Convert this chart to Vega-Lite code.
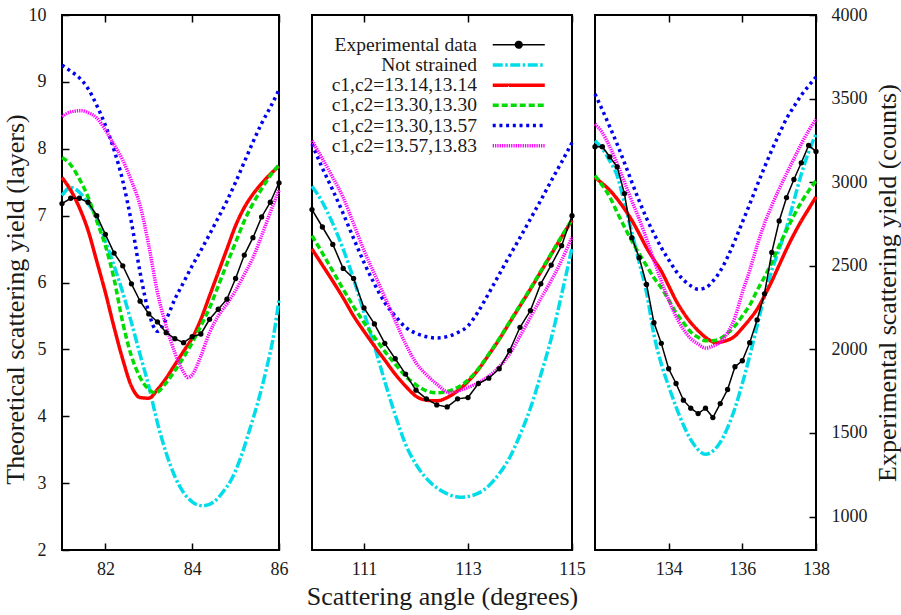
{
"$schema":"https://vega.github.io/schema/vega-lite/v6.json",
"background":"white",
"padding":{"left":1,"top":5,"right":0,"bottom":0},
"bounds":"flush",
"spacing":33,
"config":{
 "font":"Liberation Serif",
 "view":{"stroke":"#000","strokeWidth":2},
 "axis":{"grid":false,"domain":false,"tickColor":"#000","tickWidth":1.5,"tickSize":-7,"labelColor":"#1a1a1a","labelFont":"Liberation Serif","labelFontSize":18,"labelFlush":false,"labelOverlap":false,"labelBound":false,"titleFont":"Liberation Serif","titleFontSize":26,"titleFontWeight":"normal","titleColor":"#1a1a1a"},
 "axisX":{"labelPadding":17.4,"titlePadding":5},
 "axisY":{"labelPadding":23,"titlePadding":0}
},
"datasets":{
"theory":[
{"s":"Not strained","x":81,"y":7.30},{"s":"Not strained","x":81.2,"y":7.42},{"s":"Not strained","x":81.4,"y":7.35},{"s":"Not strained","x":81.6,"y":7.18},{"s":"Not strained","x":81.8,"y":6.97},{"s":"Not strained","x":82,"y":6.62},{"s":"Not strained","x":82.2,"y":6.25},{"s":"Not strained","x":82.4,"y":5.85},{"s":"Not strained","x":82.6,"y":5.40},{"s":"Not strained","x":82.8,"y":4.92},{"s":"Not strained","x":83,"y":4.45},{"s":"Not strained","x":83.2,"y":3.90},{"s":"Not strained","x":83.4,"y":3.45},{"s":"Not strained","x":83.6,"y":3.10},{"s":"Not strained","x":83.8,"y":2.86},{"s":"Not strained","x":84,"y":2.72},{"s":"Not strained","x":84.25,"y":2.66},{"s":"Not strained","x":84.5,"y":2.72},{"s":"Not strained","x":84.7,"y":2.86},{"s":"Not strained","x":84.9,"y":3.05},{"s":"Not strained","x":85.1,"y":3.35},{"s":"Not strained","x":85.3,"y":3.75},{"s":"Not strained","x":85.5,"y":4.18},{"s":"Not strained","x":85.7,"y":4.68},{"s":"Not strained","x":85.9,"y":5.30},{"s":"Not strained","x":86,"y":5.75},
{"s":"c1,c2=13.14,13.14","x":81,"y":7.57},{"s":"c1,c2=13.14,13.14","x":81.2,"y":7.38},{"s":"c1,c2=13.14,13.14","x":81.4,"y":7.12},{"s":"c1,c2=13.14,13.14","x":81.6,"y":6.78},{"s":"c1,c2=13.14,13.14","x":81.8,"y":6.32},{"s":"c1,c2=13.14,13.14","x":82,"y":5.85},{"s":"c1,c2=13.14,13.14","x":82.2,"y":5.33},{"s":"c1,c2=13.14,13.14","x":82.4,"y":4.85},{"s":"c1,c2=13.14,13.14","x":82.6,"y":4.45},{"s":"c1,c2=13.14,13.14","x":82.8,"y":4.28},{"s":"c1,c2=13.14,13.14","x":83,"y":4.27},{"s":"c1,c2=13.14,13.14","x":83.2,"y":4.40},{"s":"c1,c2=13.14,13.14","x":83.4,"y":4.57},{"s":"c1,c2=13.14,13.14","x":83.6,"y":4.77},{"s":"c1,c2=13.14,13.14","x":83.8,"y":4.97},{"s":"c1,c2=13.14,13.14","x":84,"y":5.17},{"s":"c1,c2=13.14,13.14","x":84.2,"y":5.45},{"s":"c1,c2=13.14,13.14","x":84.4,"y":5.80},{"s":"c1,c2=13.14,13.14","x":84.6,"y":6.15},{"s":"c1,c2=13.14,13.14","x":84.8,"y":6.50},{"s":"c1,c2=13.14,13.14","x":85,"y":6.85},{"s":"c1,c2=13.14,13.14","x":85.2,"y":7.12},{"s":"c1,c2=13.14,13.14","x":85.4,"y":7.32},{"s":"c1,c2=13.14,13.14","x":85.6,"y":7.48},{"s":"c1,c2=13.14,13.14","x":85.8,"y":7.62},{"s":"c1,c2=13.14,13.14","x":86,"y":7.74},
{"s":"c1,c2=13.30,13.30","x":81,"y":7.87},{"s":"c1,c2=13.30,13.30","x":81.2,"y":7.76},{"s":"c1,c2=13.30,13.30","x":81.4,"y":7.55},{"s":"c1,c2=13.30,13.30","x":81.6,"y":7.28},{"s":"c1,c2=13.30,13.30","x":81.8,"y":6.92},{"s":"c1,c2=13.30,13.30","x":82,"y":6.55},{"s":"c1,c2=13.30,13.30","x":82.2,"y":6.05},{"s":"c1,c2=13.30,13.30","x":82.4,"y":5.40},{"s":"c1,c2=13.30,13.30","x":82.6,"y":4.90},{"s":"c1,c2=13.30,13.30","x":82.8,"y":4.58},{"s":"c1,c2=13.30,13.30","x":83,"y":4.40},{"s":"c1,c2=13.30,13.30","x":83.15,"y":4.35},{"s":"c1,c2=13.30,13.30","x":83.4,"y":4.50},{"s":"c1,c2=13.30,13.30","x":83.6,"y":4.68},{"s":"c1,c2=13.30,13.30","x":83.8,"y":4.88},{"s":"c1,c2=13.30,13.30","x":84,"y":5.10},{"s":"c1,c2=13.30,13.30","x":84.2,"y":5.35},{"s":"c1,c2=13.30,13.30","x":84.4,"y":5.62},{"s":"c1,c2=13.30,13.30","x":84.6,"y":5.95},{"s":"c1,c2=13.30,13.30","x":84.8,"y":6.28},{"s":"c1,c2=13.30,13.30","x":85,"y":6.60},{"s":"c1,c2=13.30,13.30","x":85.2,"y":6.92},{"s":"c1,c2=13.30,13.30","x":85.4,"y":7.18},{"s":"c1,c2=13.30,13.30","x":85.6,"y":7.40},{"s":"c1,c2=13.30,13.30","x":85.8,"y":7.60},{"s":"c1,c2=13.30,13.30","x":86,"y":7.76},
{"s":"c1,c2=13.30,13.57","x":81,"y":9.25},{"s":"c1,c2=13.30,13.57","x":81.2,"y":9.16},{"s":"c1,c2=13.30,13.57","x":81.4,"y":9.06},{"s":"c1,c2=13.30,13.57","x":81.6,"y":8.90},{"s":"c1,c2=13.30,13.57","x":81.8,"y":8.65},{"s":"c1,c2=13.30,13.57","x":82,"y":8.35},{"s":"c1,c2=13.30,13.57","x":82.2,"y":7.98},{"s":"c1,c2=13.30,13.57","x":82.4,"y":7.52},{"s":"c1,c2=13.30,13.57","x":82.6,"y":6.90},{"s":"c1,c2=13.30,13.57","x":82.8,"y":6.15},{"s":"c1,c2=13.30,13.57","x":83,"y":5.55},{"s":"c1,c2=13.30,13.57","x":83.2,"y":5.27},{"s":"c1,c2=13.30,13.57","x":83.4,"y":5.45},{"s":"c1,c2=13.30,13.57","x":83.6,"y":5.75},{"s":"c1,c2=13.30,13.57","x":83.8,"y":6.00},{"s":"c1,c2=13.30,13.57","x":84,"y":6.25},{"s":"c1,c2=13.30,13.57","x":84.2,"y":6.48},{"s":"c1,c2=13.30,13.57","x":84.4,"y":6.72},{"s":"c1,c2=13.30,13.57","x":84.6,"y":6.97},{"s":"c1,c2=13.30,13.57","x":84.8,"y":7.22},{"s":"c1,c2=13.30,13.57","x":85,"y":7.50},{"s":"c1,c2=13.30,13.57","x":85.2,"y":7.80},{"s":"c1,c2=13.30,13.57","x":85.4,"y":8.10},{"s":"c1,c2=13.30,13.57","x":85.6,"y":8.38},{"s":"c1,c2=13.30,13.57","x":85.8,"y":8.62},{"s":"c1,c2=13.30,13.57","x":86,"y":8.88},
{"s":"c1,c2=13.57,13.83","x":81,"y":8.48},{"s":"c1,c2=13.57,13.83","x":81.2,"y":8.55},{"s":"c1,c2=13.57,13.83","x":81.45,"y":8.57},{"s":"c1,c2=13.57,13.83","x":81.6,"y":8.54},{"s":"c1,c2=13.57,13.83","x":81.8,"y":8.46},{"s":"c1,c2=13.57,13.83","x":82,"y":8.28},{"s":"c1,c2=13.57,13.83","x":82.2,"y":8.06},{"s":"c1,c2=13.57,13.83","x":82.4,"y":7.83},{"s":"c1,c2=13.57,13.83","x":82.6,"y":7.52},{"s":"c1,c2=13.57,13.83","x":82.8,"y":7.15},{"s":"c1,c2=13.57,13.83","x":83,"y":6.55},{"s":"c1,c2=13.57,13.83","x":83.2,"y":5.85},{"s":"c1,c2=13.57,13.83","x":83.4,"y":5.35},{"s":"c1,c2=13.57,13.83","x":83.6,"y":4.95},{"s":"c1,c2=13.57,13.83","x":83.8,"y":4.66},{"s":"c1,c2=13.57,13.83","x":83.9,"y":4.58},{"s":"c1,c2=13.57,13.83","x":84,"y":4.62},{"s":"c1,c2=13.57,13.83","x":84.2,"y":4.90},{"s":"c1,c2=13.57,13.83","x":84.4,"y":5.25},{"s":"c1,c2=13.57,13.83","x":84.6,"y":5.50},{"s":"c1,c2=13.57,13.83","x":84.8,"y":5.68},{"s":"c1,c2=13.57,13.83","x":85,"y":5.88},{"s":"c1,c2=13.57,13.83","x":85.2,"y":6.12},{"s":"c1,c2=13.57,13.83","x":85.4,"y":6.37},{"s":"c1,c2=13.57,13.83","x":85.6,"y":6.70},{"s":"c1,c2=13.57,13.83","x":85.8,"y":7.05},{"s":"c1,c2=13.57,13.83","x":86,"y":7.38},
{"s":"Not strained","x":110,"y":7.44},{"s":"Not strained","x":110.2,"y":7.20},{"s":"Not strained","x":110.4,"y":6.88},{"s":"Not strained","x":110.6,"y":6.50},{"s":"Not strained","x":110.8,"y":6.05},{"s":"Not strained","x":111,"y":5.55},{"s":"Not strained","x":111.2,"y":5.05},{"s":"Not strained","x":111.4,"y":4.52},{"s":"Not strained","x":111.6,"y":4.02},{"s":"Not strained","x":111.8,"y":3.58},{"s":"Not strained","x":112,"y":3.28},{"s":"Not strained","x":112.2,"y":3.07},{"s":"Not strained","x":112.4,"y":2.93},{"s":"Not strained","x":112.6,"y":2.84},{"s":"Not strained","x":112.85,"y":2.79},{"s":"Not strained","x":113,"y":2.80},{"s":"Not strained","x":113.2,"y":2.85},{"s":"Not strained","x":113.4,"y":2.96},{"s":"Not strained","x":113.6,"y":3.14},{"s":"Not strained","x":113.8,"y":3.38},{"s":"Not strained","x":114,"y":3.72},{"s":"Not strained","x":114.2,"y":4.12},{"s":"Not strained","x":114.4,"y":4.62},{"s":"Not strained","x":114.6,"y":5.16},{"s":"Not strained","x":114.8,"y":5.82},{"s":"Not strained","x":115,"y":6.52},
{"s":"c1,c2=13.14,13.14","x":110,"y":6.50},{"s":"c1,c2=13.14,13.14","x":110.2,"y":6.26},{"s":"c1,c2=13.14,13.14","x":110.4,"y":6.02},{"s":"c1,c2=13.14,13.14","x":110.6,"y":5.77},{"s":"c1,c2=13.14,13.14","x":110.8,"y":5.50},{"s":"c1,c2=13.14,13.14","x":111,"y":5.27},{"s":"c1,c2=13.14,13.14","x":111.2,"y":5.05},{"s":"c1,c2=13.14,13.14","x":111.4,"y":4.84},{"s":"c1,c2=13.14,13.14","x":111.6,"y":4.63},{"s":"c1,c2=13.14,13.14","x":111.8,"y":4.45},{"s":"c1,c2=13.14,13.14","x":112,"y":4.30},{"s":"c1,c2=13.14,13.14","x":112.2,"y":4.24},{"s":"c1,c2=13.14,13.14","x":112.4,"y":4.23},{"s":"c1,c2=13.14,13.14","x":112.6,"y":4.28},{"s":"c1,c2=13.14,13.14","x":112.8,"y":4.38},{"s":"c1,c2=13.14,13.14","x":113,"y":4.52},{"s":"c1,c2=13.14,13.14","x":113.2,"y":4.70},{"s":"c1,c2=13.14,13.14","x":113.4,"y":4.92},{"s":"c1,c2=13.14,13.14","x":113.6,"y":5.15},{"s":"c1,c2=13.14,13.14","x":113.8,"y":5.40},{"s":"c1,c2=13.14,13.14","x":114,"y":5.65},{"s":"c1,c2=13.14,13.14","x":114.2,"y":5.90},{"s":"c1,c2=13.14,13.14","x":114.4,"y":6.16},{"s":"c1,c2=13.14,13.14","x":114.6,"y":6.42},{"s":"c1,c2=13.14,13.14","x":114.8,"y":6.68},{"s":"c1,c2=13.14,13.14","x":115,"y":6.93},
{"s":"c1,c2=13.30,13.30","x":110,"y":6.70},{"s":"c1,c2=13.30,13.30","x":110.2,"y":6.44},{"s":"c1,c2=13.30,13.30","x":110.4,"y":6.17},{"s":"c1,c2=13.30,13.30","x":110.6,"y":5.90},{"s":"c1,c2=13.30,13.30","x":110.8,"y":5.64},{"s":"c1,c2=13.30,13.30","x":111,"y":5.40},{"s":"c1,c2=13.30,13.30","x":111.2,"y":5.18},{"s":"c1,c2=13.30,13.30","x":111.4,"y":4.97},{"s":"c1,c2=13.30,13.30","x":111.6,"y":4.78},{"s":"c1,c2=13.30,13.30","x":111.8,"y":4.60},{"s":"c1,c2=13.30,13.30","x":112,"y":4.47},{"s":"c1,c2=13.30,13.30","x":112.2,"y":4.38},{"s":"c1,c2=13.30,13.30","x":112.4,"y":4.35},{"s":"c1,c2=13.30,13.30","x":112.6,"y":4.37},{"s":"c1,c2=13.30,13.30","x":112.8,"y":4.43},{"s":"c1,c2=13.30,13.30","x":113,"y":4.54},{"s":"c1,c2=13.30,13.30","x":113.2,"y":4.71},{"s":"c1,c2=13.30,13.30","x":113.4,"y":4.93},{"s":"c1,c2=13.30,13.30","x":113.6,"y":5.16},{"s":"c1,c2=13.30,13.30","x":113.8,"y":5.41},{"s":"c1,c2=13.30,13.30","x":114,"y":5.66},{"s":"c1,c2=13.30,13.30","x":114.2,"y":5.91},{"s":"c1,c2=13.30,13.30","x":114.4,"y":6.17},{"s":"c1,c2=13.30,13.30","x":114.6,"y":6.43},{"s":"c1,c2=13.30,13.30","x":114.8,"y":6.69},{"s":"c1,c2=13.30,13.30","x":115,"y":6.94},
{"s":"c1,c2=13.30,13.57","x":110,"y":8.07},{"s":"c1,c2=13.30,13.57","x":110.2,"y":7.71},{"s":"c1,c2=13.30,13.57","x":110.4,"y":7.38},{"s":"c1,c2=13.30,13.57","x":110.6,"y":7.03},{"s":"c1,c2=13.30,13.57","x":110.8,"y":6.66},{"s":"c1,c2=13.30,13.57","x":111,"y":6.30},{"s":"c1,c2=13.30,13.57","x":111.2,"y":5.98},{"s":"c1,c2=13.30,13.57","x":111.4,"y":5.70},{"s":"c1,c2=13.30,13.57","x":111.6,"y":5.50},{"s":"c1,c2=13.30,13.57","x":111.8,"y":5.33},{"s":"c1,c2=13.30,13.57","x":112,"y":5.24},{"s":"c1,c2=13.30,13.57","x":112.2,"y":5.19},{"s":"c1,c2=13.30,13.57","x":112.4,"y":5.17},{"s":"c1,c2=13.30,13.57","x":112.6,"y":5.19},{"s":"c1,c2=13.30,13.57","x":112.8,"y":5.25},{"s":"c1,c2=13.30,13.57","x":113,"y":5.35},{"s":"c1,c2=13.30,13.57","x":113.2,"y":5.57},{"s":"c1,c2=13.30,13.57","x":113.4,"y":5.84},{"s":"c1,c2=13.30,13.57","x":113.6,"y":6.12},{"s":"c1,c2=13.30,13.57","x":113.8,"y":6.40},{"s":"c1,c2=13.30,13.57","x":114,"y":6.67},{"s":"c1,c2=13.30,13.57","x":114.2,"y":6.95},{"s":"c1,c2=13.30,13.57","x":114.4,"y":7.23},{"s":"c1,c2=13.30,13.57","x":114.6,"y":7.52},{"s":"c1,c2=13.30,13.57","x":114.8,"y":7.80},{"s":"c1,c2=13.30,13.57","x":115,"y":8.09},
{"s":"c1,c2=13.57,13.83","x":110,"y":8.12},{"s":"c1,c2=13.57,13.83","x":110.2,"y":7.85},{"s":"c1,c2=13.57,13.83","x":110.4,"y":7.57},{"s":"c1,c2=13.57,13.83","x":110.6,"y":7.27},{"s":"c1,c2=13.57,13.83","x":110.8,"y":6.88},{"s":"c1,c2=13.57,13.83","x":111,"y":6.48},{"s":"c1,c2=13.57,13.83","x":111.2,"y":6.13},{"s":"c1,c2=13.57,13.83","x":111.4,"y":5.78},{"s":"c1,c2=13.57,13.83","x":111.6,"y":5.43},{"s":"c1,c2=13.57,13.83","x":111.8,"y":5.08},{"s":"c1,c2=13.57,13.83","x":112,"y":4.80},{"s":"c1,c2=13.57,13.83","x":112.2,"y":4.62},{"s":"c1,c2=13.57,13.83","x":112.4,"y":4.48},{"s":"c1,c2=13.57,13.83","x":112.65,"y":4.35},{"s":"c1,c2=13.57,13.83","x":112.8,"y":4.38},{"s":"c1,c2=13.57,13.83","x":113,"y":4.43},{"s":"c1,c2=13.57,13.83","x":113.2,"y":4.50},{"s":"c1,c2=13.57,13.83","x":113.4,"y":4.60},{"s":"c1,c2=13.57,13.83","x":113.6,"y":4.74},{"s":"c1,c2=13.57,13.83","x":113.8,"y":4.93},{"s":"c1,c2=13.57,13.83","x":114,"y":5.20},{"s":"c1,c2=13.57,13.83","x":114.2,"y":5.48},{"s":"c1,c2=13.57,13.83","x":114.4,"y":5.76},{"s":"c1,c2=13.57,13.83","x":114.6,"y":6.03},{"s":"c1,c2=13.57,13.83","x":114.8,"y":6.33},{"s":"c1,c2=13.57,13.83","x":115,"y":6.68},
{"s":"Not strained","x":132,"y":8.12},{"s":"Not strained","x":132.2,"y":8.00},{"s":"Not strained","x":132.4,"y":7.82},{"s":"Not strained","x":132.6,"y":7.60},{"s":"Not strained","x":132.8,"y":7.19},{"s":"Not strained","x":133,"y":6.75},{"s":"Not strained","x":133.2,"y":6.30},{"s":"Not strained","x":133.4,"y":5.85},{"s":"Not strained","x":133.6,"y":5.22},{"s":"Not strained","x":133.8,"y":4.78},{"s":"Not strained","x":134,"y":4.45},{"s":"Not strained","x":134.2,"y":4.14},{"s":"Not strained","x":134.4,"y":3.87},{"s":"Not strained","x":134.6,"y":3.65},{"s":"Not strained","x":134.8,"y":3.50},{"s":"Not strained","x":135,"y":3.43},{"s":"Not strained","x":135.2,"y":3.48},{"s":"Not strained","x":135.4,"y":3.61},{"s":"Not strained","x":135.6,"y":3.83},{"s":"Not strained","x":135.8,"y":4.12},{"s":"Not strained","x":136,"y":4.49},{"s":"Not strained","x":136.2,"y":4.90},{"s":"Not strained","x":136.4,"y":5.35},{"s":"Not strained","x":136.6,"y":5.80},{"s":"Not strained","x":136.8,"y":6.18},{"s":"Not strained","x":137,"y":6.50},{"s":"Not strained","x":137.2,"y":6.82},{"s":"Not strained","x":137.4,"y":7.22},{"s":"Not strained","x":137.6,"y":7.62},{"s":"Not strained","x":137.8,"y":7.95},{"s":"Not strained","x":138,"y":8.22},
{"s":"c1,c2=13.14,13.14","x":132,"y":7.57},{"s":"c1,c2=13.14,13.14","x":132.2,"y":7.48},{"s":"c1,c2=13.14,13.14","x":132.4,"y":7.38},{"s":"c1,c2=13.14,13.14","x":132.6,"y":7.25},{"s":"c1,c2=13.14,13.14","x":132.8,"y":7.10},{"s":"c1,c2=13.14,13.14","x":133,"y":6.93},{"s":"c1,c2=13.14,13.14","x":133.2,"y":6.73},{"s":"c1,c2=13.14,13.14","x":133.4,"y":6.52},{"s":"c1,c2=13.14,13.14","x":133.6,"y":6.34},{"s":"c1,c2=13.14,13.14","x":133.8,"y":6.17},{"s":"c1,c2=13.14,13.14","x":134,"y":5.95},{"s":"c1,c2=13.14,13.14","x":134.2,"y":5.73},{"s":"c1,c2=13.14,13.14","x":134.4,"y":5.55},{"s":"c1,c2=13.14,13.14","x":134.6,"y":5.40},{"s":"c1,c2=13.14,13.14","x":134.8,"y":5.28},{"s":"c1,c2=13.14,13.14","x":135,"y":5.18},{"s":"c1,c2=13.14,13.14","x":135.3,"y":5.10},{"s":"c1,c2=13.14,13.14","x":135.5,"y":5.12},{"s":"c1,c2=13.14,13.14","x":135.8,"y":5.20},{"s":"c1,c2=13.14,13.14","x":136,"y":5.32},{"s":"c1,c2=13.14,13.14","x":136.2,"y":5.45},{"s":"c1,c2=13.14,13.14","x":136.4,"y":5.60},{"s":"c1,c2=13.14,13.14","x":136.6,"y":5.80},{"s":"c1,c2=13.14,13.14","x":136.8,"y":6.02},{"s":"c1,c2=13.14,13.14","x":137,"y":6.26},{"s":"c1,c2=13.14,13.14","x":137.2,"y":6.50},{"s":"c1,c2=13.14,13.14","x":137.4,"y":6.72},{"s":"c1,c2=13.14,13.14","x":137.6,"y":6.92},{"s":"c1,c2=13.14,13.14","x":137.8,"y":7.10},{"s":"c1,c2=13.14,13.14","x":138,"y":7.28},
{"s":"c1,c2=13.30,13.30","x":132,"y":7.60},{"s":"c1,c2=13.30,13.30","x":132.2,"y":7.45},{"s":"c1,c2=13.30,13.30","x":132.4,"y":7.28},{"s":"c1,c2=13.30,13.30","x":132.6,"y":7.05},{"s":"c1,c2=13.30,13.30","x":132.8,"y":6.83},{"s":"c1,c2=13.30,13.30","x":133,"y":6.62},{"s":"c1,c2=13.30,13.30","x":133.2,"y":6.43},{"s":"c1,c2=13.30,13.30","x":133.4,"y":6.25},{"s":"c1,c2=13.30,13.30","x":133.6,"y":6.07},{"s":"c1,c2=13.30,13.30","x":133.8,"y":5.92},{"s":"c1,c2=13.30,13.30","x":134,"y":5.74},{"s":"c1,c2=13.30,13.30","x":134.2,"y":5.55},{"s":"c1,c2=13.30,13.30","x":134.4,"y":5.40},{"s":"c1,c2=13.30,13.30","x":134.6,"y":5.26},{"s":"c1,c2=13.30,13.30","x":134.8,"y":5.18},{"s":"c1,c2=13.30,13.30","x":135,"y":5.13},{"s":"c1,c2=13.30,13.30","x":135.2,"y":5.13},{"s":"c1,c2=13.30,13.30","x":135.4,"y":5.16},{"s":"c1,c2=13.30,13.30","x":135.6,"y":5.24},{"s":"c1,c2=13.30,13.30","x":135.8,"y":5.35},{"s":"c1,c2=13.30,13.30","x":136,"y":5.50},{"s":"c1,c2=13.30,13.30","x":136.2,"y":5.66},{"s":"c1,c2=13.30,13.30","x":136.4,"y":5.88},{"s":"c1,c2=13.30,13.30","x":136.6,"y":6.08},{"s":"c1,c2=13.30,13.30","x":136.8,"y":6.30},{"s":"c1,c2=13.30,13.30","x":137,"y":6.55},{"s":"c1,c2=13.30,13.30","x":137.2,"y":6.78},{"s":"c1,c2=13.30,13.30","x":137.4,"y":7.00},{"s":"c1,c2=13.30,13.30","x":137.6,"y":7.20},{"s":"c1,c2=13.30,13.30","x":137.8,"y":7.37},{"s":"c1,c2=13.30,13.30","x":138,"y":7.52},
{"s":"c1,c2=13.30,13.57","x":132,"y":8.82},{"s":"c1,c2=13.30,13.57","x":132.2,"y":8.58},{"s":"c1,c2=13.30,13.57","x":132.4,"y":8.33},{"s":"c1,c2=13.30,13.57","x":132.6,"y":8.07},{"s":"c1,c2=13.30,13.57","x":132.8,"y":7.79},{"s":"c1,c2=13.30,13.57","x":133,"y":7.50},{"s":"c1,c2=13.30,13.57","x":133.2,"y":7.22},{"s":"c1,c2=13.30,13.57","x":133.4,"y":6.96},{"s":"c1,c2=13.30,13.57","x":133.6,"y":6.73},{"s":"c1,c2=13.30,13.57","x":133.8,"y":6.52},{"s":"c1,c2=13.30,13.57","x":134,"y":6.34},{"s":"c1,c2=13.30,13.57","x":134.2,"y":6.17},{"s":"c1,c2=13.30,13.57","x":134.4,"y":6.04},{"s":"c1,c2=13.30,13.57","x":134.6,"y":5.95},{"s":"c1,c2=13.30,13.57","x":134.8,"y":5.90},{"s":"c1,c2=13.30,13.57","x":135,"y":5.92},{"s":"c1,c2=13.30,13.57","x":135.2,"y":6.02},{"s":"c1,c2=13.30,13.57","x":135.4,"y":6.17},{"s":"c1,c2=13.30,13.57","x":135.6,"y":6.38},{"s":"c1,c2=13.30,13.57","x":135.8,"y":6.63},{"s":"c1,c2=13.30,13.57","x":136,"y":6.90},{"s":"c1,c2=13.30,13.57","x":136.2,"y":7.17},{"s":"c1,c2=13.30,13.57","x":136.4,"y":7.45},{"s":"c1,c2=13.30,13.57","x":136.6,"y":7.72},{"s":"c1,c2=13.30,13.57","x":136.8,"y":7.98},{"s":"c1,c2=13.30,13.57","x":137,"y":8.22},{"s":"c1,c2=13.30,13.57","x":137.2,"y":8.45},{"s":"c1,c2=13.30,13.57","x":137.4,"y":8.63},{"s":"c1,c2=13.30,13.57","x":137.6,"y":8.80},{"s":"c1,c2=13.30,13.57","x":137.8,"y":8.94},{"s":"c1,c2=13.30,13.57","x":138,"y":9.07},
{"s":"c1,c2=13.57,13.83","x":132,"y":8.37},{"s":"c1,c2=13.57,13.83","x":132.2,"y":8.24},{"s":"c1,c2=13.57,13.83","x":132.4,"y":8.03},{"s":"c1,c2=13.57,13.83","x":132.6,"y":7.78},{"s":"c1,c2=13.57,13.83","x":132.8,"y":7.50},{"s":"c1,c2=13.57,13.83","x":133,"y":7.22},{"s":"c1,c2=13.57,13.83","x":133.2,"y":6.95},{"s":"c1,c2=13.57,13.83","x":133.4,"y":6.65},{"s":"c1,c2=13.57,13.83","x":133.6,"y":6.33},{"s":"c1,c2=13.57,13.83","x":133.8,"y":6.02},{"s":"c1,c2=13.57,13.83","x":134,"y":5.74},{"s":"c1,c2=13.57,13.83","x":134.2,"y":5.49},{"s":"c1,c2=13.57,13.83","x":134.4,"y":5.30},{"s":"c1,c2=13.57,13.83","x":134.6,"y":5.16},{"s":"c1,c2=13.57,13.83","x":134.8,"y":5.08},{"s":"c1,c2=13.57,13.83","x":135,"y":5.02},{"s":"c1,c2=13.57,13.83","x":135.2,"y":5.05},{"s":"c1,c2=13.57,13.83","x":135.4,"y":5.11},{"s":"c1,c2=13.57,13.83","x":135.6,"y":5.25},{"s":"c1,c2=13.57,13.83","x":135.8,"y":5.48},{"s":"c1,c2=13.57,13.83","x":136,"y":5.85},{"s":"c1,c2=13.57,13.83","x":136.2,"y":6.18},{"s":"c1,c2=13.57,13.83","x":136.4,"y":6.55},{"s":"c1,c2=13.57,13.83","x":136.6,"y":6.88},{"s":"c1,c2=13.57,13.83","x":136.8,"y":7.15},{"s":"c1,c2=13.57,13.83","x":137,"y":7.40},{"s":"c1,c2=13.57,13.83","x":137.2,"y":7.63},{"s":"c1,c2=13.57,13.83","x":137.4,"y":7.85},{"s":"c1,c2=13.57,13.83","x":137.6,"y":8.07},{"s":"c1,c2=13.57,13.83","x":137.8,"y":8.27},{"s":"c1,c2=13.57,13.83","x":138,"y":8.44}
],
"exp":[
{"x":81,"c":2872},{"x":81.2,"c":2904},{"x":81.4,"c":2904},{"x":81.6,"c":2880},{"x":81.8,"c":2800},{"x":82,"c":2688},{"x":82.2,"c":2576},{"x":82.4,"c":2500},{"x":82.6,"c":2392},{"x":82.8,"c":2288},{"x":83,"c":2212},{"x":83.2,"c":2164},{"x":83.4,"c":2100},{"x":83.6,"c":2064},{"x":83.8,"c":2040},{"x":84,"c":2076},{"x":84.2,"c":2092},{"x":84.4,"c":2180},{"x":84.6,"c":2240},{"x":84.8,"c":2300},{"x":85,"c":2424},{"x":85.2,"c":2564},{"x":85.4,"c":2668},{"x":85.6,"c":2792},{"x":85.8,"c":2880},{"x":86,"c":2996},
{"x":110,"c":2836},{"x":110.2,"c":2732},{"x":110.4,"c":2628},{"x":110.6,"c":2484},{"x":110.8,"c":2424},{"x":111,"c":2248},{"x":111.2,"c":2152},{"x":111.4,"c":2036},{"x":111.6,"c":1944},{"x":111.8,"c":1852},{"x":112,"c":1756},{"x":112.2,"c":1704},{"x":112.4,"c":1668},{"x":112.6,"c":1656},{"x":112.8,"c":1704},{"x":113,"c":1712},{"x":113.2,"c":1796},{"x":113.4,"c":1828},{"x":113.6,"c":1884},{"x":113.8,"c":1992},{"x":114,"c":2132},{"x":114.2,"c":2232},{"x":114.4,"c":2392},{"x":114.6,"c":2504},{"x":114.8,"c":2620},{"x":115,"c":2800},
{"x":132,"c":3212},{"x":132.2,"c":3212},{"x":132.4,"c":3152},{"x":132.6,"c":3092},{"x":132.8,"c":2932},{"x":133,"c":2668},{"x":133.2,"c":2548},{"x":133.4,"c":2388},{"x":133.6,"c":2160},{"x":133.8,"c":2036},{"x":134,"c":1884},{"x":134.2,"c":1796},{"x":134.4,"c":1696},{"x":134.6,"c":1648},{"x":134.8,"c":1616},{"x":135,"c":1648},{"x":135.2,"c":1592},{"x":135.4,"c":1676},{"x":135.6,"c":1760},{"x":135.8,"c":1896},{"x":136,"c":1932},{"x":136.2,"c":2040},{"x":136.4,"c":2176},{"x":136.6,"c":2332},{"x":136.8,"c":2580},{"x":137,"c":2768},{"x":137.2,"c":2908},{"x":137.4,"c":3016},{"x":137.6,"c":3116},{"x":137.8,"c":3220},{"x":138,"c":3184}
]
},
"resolve":{"scale":{"x":"independent","y":"independent"}},
"hconcat":[
{
 "width":217,"height":535,
 "resolve":{"scale":{"y":"independent"},"axis":{"x":"independent","y":"independent"}},
 "layer":[
  {"data":{"name":"theory"},"transform":[{"filter":"datum.x < 100"}],
   "mark":{"type":"line","interpolate":"monotone","strokeWidth":3.5},
   "encoding":{
    "x":{"field":"x","type":"quantitative","scale":{"domain":[81,86],"nice":false,"zero":false},"axis":{"values":[82,84,86],"title":null}},
    "y":{"field":"y","type":"quantitative","scale":{"domain":[2,10],"nice":false,"zero":false},"axis":{"values":[2,3,4,5,6,7,8,9,10],"title":"Theoretical scattering yield (layers)","titleY":284}},
    "color":{"field":"s","type":"nominal",
      "scale":{"domain":["Experimental data","Not strained","c1,c2=13.14,13.14","c1,c2=13.30,13.30","c1,c2=13.30,13.57","c1,c2=13.57,13.83"],"range":["#000000","#00dde8","#ff0000","#00dc00","#0000ee","#ff00ff"]},
      "legend":{"orient":"none","legendX":447,"legendY":20,"title":null,"direction":"vertical","labelAlign":"right","labelOffset":-51.5,"labelFont":"Liberation Serif","labelFontSize":19.5,"labelColor":"#1a1a1a","labelLimit":400,"symbolType":"stroke","symbolSize":361,"rowPadding":-0.8,"padding":0,
        "encode":{"symbols":{"update":{
          "shape":{"signal":"datum.value === 'Experimental data' ? 'M-2.74,0H2.74M-0.35,0A0.35,0.35,0,1,0,0.35,0A0.35,0.35,0,1,0,-0.35,0Z' : 'M-2.74,0H2.74'"},
          "fill":{"signal":"datum.value === 'Experimental data' ? '#000' : 'transparent'"},
          "strokeDash":{"signal":"datum.value === 'Not strained' ? [10,2.5,2.5,2.5] : datum.value === 'c1,c2=13.30,13.30' ? [6,3] : datum.value === 'c1,c2=13.30,13.57' ? [3,3.7] : datum.value === 'c1,c2=13.57,13.83' ? [1.3,1] : [1,0]"},
          "strokeWidth":{"signal":"datum.value === 'Experimental data' ? 1.5 : 3.5"},
          "opacity":{"value":1}}}}}},
    "strokeDash":{"field":"s","type":"nominal","legend":null,
      "scale":{"type":"ordinal","domain":["Not strained","c1,c2=13.14,13.14","c1,c2=13.30,13.30","c1,c2=13.30,13.57","c1,c2=13.57,13.83"],"range":[[10,2.5,2.5,2.5],[1,0],[6,3],[3,3.7],[1.3,1]]}}
   }},
  {"data":{"name":"exp"},"transform":[{"filter":"datum.x < 100"}],
   "mark":{"type":"line","color":"#000","strokeWidth":1.5},
   "encoding":{
    "x":{"field":"x","type":"quantitative","scale":{"domain":[81,86],"nice":false,"zero":false},"axis":{"orient":"top","values":[82,84,86],"labels":false,"title":null}},
    "y":{"field":"c","type":"quantitative","scale":{"domain":[800,4000],"nice":false,"zero":false},"axis":null}
   }},
  {"data":{"name":"exp"},"transform":[{"filter":"datum.x < 100"}],
   "mark":{"type":"circle","size":28,"color":"#000","opacity":1},
   "encoding":{
    "x":{"field":"x","type":"quantitative","scale":{"domain":[81,86],"nice":false,"zero":false},"axis":null},
    "y":{"field":"c","type":"quantitative","scale":{"domain":[800,4000],"nice":false,"zero":false},"axis":null}
   }}
 ]
},
{
 "spacing":23,
 "bounds":"flush",
 "resolve":{"scale":{"x":"independent","y":"independent"}},
 "hconcat":[
 {
  "width":260,"height":535,
  "resolve":{"scale":{"y":"independent"},"axis":{"x":"independent","y":"independent"}},
  "layer":[
   {"data":{"name":"theory"},"transform":[{"filter":"datum.x > 100 && datum.x < 120"}],
    "mark":{"type":"line","interpolate":"monotone","strokeWidth":3.5},
    "encoding":{
     "x":{"field":"x","type":"quantitative","scale":{"domain":[110,115],"nice":false,"zero":false},"axis":{"values":[111,113,115],"title":"Scattering angle (degrees)"}},
     "y":{"field":"y","type":"quantitative","scale":{"domain":[2,10],"nice":false,"zero":false},"axis":null},
     "color":{"field":"s","type":"nominal","scale":{"domain":["Experimental data","Not strained","c1,c2=13.14,13.14","c1,c2=13.30,13.30","c1,c2=13.30,13.57","c1,c2=13.57,13.83"],"range":["#000000","#00dde8","#ff0000","#00dc00","#0000ee","#ff00ff"]}},
     "strokeDash":{"field":"s","type":"nominal","legend":null,"scale":{"type":"ordinal","domain":["Not strained","c1,c2=13.14,13.14","c1,c2=13.30,13.30","c1,c2=13.30,13.57","c1,c2=13.57,13.83"],"range":[[10,2.5,2.5,2.5],[1,0],[6,3],[3,3.7],[1.3,1]]}}
    }},
   {"data":{"name":"exp"},"transform":[{"filter":"datum.x > 100 && datum.x < 120"}],
    "mark":{"type":"line","color":"#000","strokeWidth":1.5},
    "encoding":{
     "x":{"field":"x","type":"quantitative","scale":{"domain":[110,115],"nice":false,"zero":false},"axis":{"orient":"top","values":[111,113,115],"labels":false,"title":null}},
     "y":{"field":"c","type":"quantitative","scale":{"domain":[800,4000],"nice":false,"zero":false},"axis":null}
    }},
   {"data":{"name":"exp"},"transform":[{"filter":"datum.x > 100 && datum.x < 120"}],
    "mark":{"type":"circle","size":28,"color":"#000","opacity":1},
    "encoding":{
     "x":{"field":"x","type":"quantitative","scale":{"domain":[110,115],"nice":false,"zero":false},"axis":null},
     "y":{"field":"c","type":"quantitative","scale":{"domain":[800,4000],"nice":false,"zero":false},"axis":null}
    }}
  ]
 },
 {
  "width":221,"height":535,
  "resolve":{"scale":{"y":"independent"},"axis":{"x":"independent","y":"independent"}},
  "layer":[
   {"data":{"name":"theory"},"transform":[{"filter":"datum.x > 120"}],
    "mark":{"type":"line","interpolate":"monotone","strokeWidth":3.5},
    "encoding":{
     "x":{"field":"x","type":"quantitative","scale":{"domain":[132,138],"nice":false,"zero":false},"axis":{"values":[134,136,138],"title":null}},
     "y":{"field":"y","type":"quantitative","scale":{"domain":[2,10],"nice":false,"zero":false},"axis":null},
     "color":{"field":"s","type":"nominal","scale":{"domain":["Experimental data","Not strained","c1,c2=13.14,13.14","c1,c2=13.30,13.30","c1,c2=13.30,13.57","c1,c2=13.57,13.83"],"range":["#000000","#00dde8","#ff0000","#00dc00","#0000ee","#ff00ff"]}},
     "strokeDash":{"field":"s","type":"nominal","legend":null,"scale":{"type":"ordinal","domain":["Not strained","c1,c2=13.14,13.14","c1,c2=13.30,13.30","c1,c2=13.30,13.57","c1,c2=13.57,13.83"],"range":[[10,2.5,2.5,2.5],[1,0],[6,3],[3,3.7],[1.3,1]]}}
    }},
   {"data":{"name":"exp"},"transform":[{"filter":"datum.x > 120"}],
    "mark":{"type":"line","color":"#000","strokeWidth":1.5},
    "encoding":{
     "x":{"field":"x","type":"quantitative","scale":{"domain":[132,138],"nice":false,"zero":false},"axis":{"orient":"top","values":[134,136,138],"labels":false,"title":null}},
     "y":{"field":"c","type":"quantitative","scale":{"domain":[800,4000],"nice":false,"zero":false},"axis":{"orient":"right","format":"d","values":[1000,1500,2000,2500,3000,3500,4000],"title":"Experimental scattering yield (counts)","titleAngle":270,"titleBaseline":"top","labelPadding":22,"titlePadding":7}}
    }},
   {"data":{"name":"exp"},"transform":[{"filter":"datum.x > 120"}],
    "mark":{"type":"circle","size":28,"color":"#000","opacity":1},
    "encoding":{
     "x":{"field":"x","type":"quantitative","scale":{"domain":[132,138],"nice":false,"zero":false},"axis":null},
     "y":{"field":"c","type":"quantitative","scale":{"domain":[800,4000],"nice":false,"zero":false},"axis":null}
    }}
  ]
 }
 ]
}
]
}
